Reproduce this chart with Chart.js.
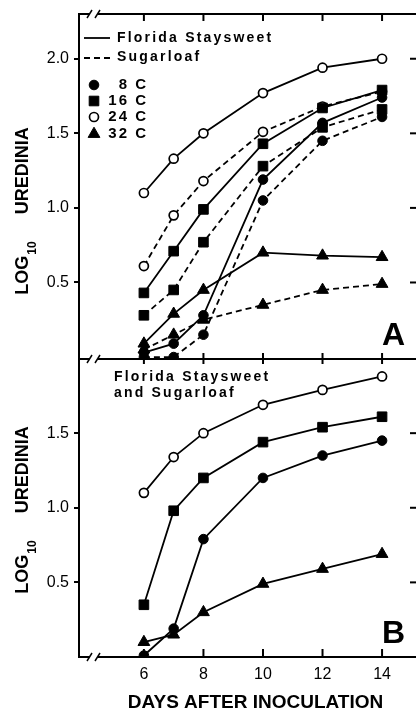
<!DOCTYPE html>
<html><head><meta charset="utf-8">
<script src="https://cdn.jsdelivr.net/npm/chart.js@4.4.1/dist/chart.umd.min.js"></script>
<style>
html,body{margin:0;padding:0;background:#fff;width:416px;height:711px;overflow:hidden;}
#wrap{position:relative;width:416px;height:711px;}
canvas{position:absolute;left:0;}
#cA{top:0;} #cB{top:345px;}
</style></head><body>
<div id="wrap"><canvas id="cA" width="416" height="371"></canvas><canvas id="cB" width="416" height="366"></canvas></div>
<script>
// ---- data ----
const days = [6, 7, 8, 10, 12, 14];
const xTicks = [6, 8, 10, 12, 14];
const yTicksA = [0.5, 1.0, 1.5, 2.0];
const yTicksB = [0.5, 1.0, 1.5];
const temps = ['8 C', '16 C', '24 C', '32 C'];
const cultivars = ['Florida Staysweet', 'Sugarloaf'];
const xTitle = 'DAYS AFTER INOCULATION';
// Panel A - Florida Staysweet (solid)
const fs8  = [0.03, 0.09, 0.28, 1.19, 1.57, 1.74];
const fs16 = [0.43, 0.71, 0.99, 1.43, 1.67, 1.79];
const fs24 = [1.10, 1.33, 1.50, 1.77, 1.94, 2.00];
const fs32 = [0.09, 0.29, 0.45, 0.70, 0.68, 0.67];
// Panel A - Sugarloaf (dashed)
const sl8  = [0.00, 0.00, 0.15, 1.05, 1.45, 1.61];
const sl16 = [0.28, 0.45, 0.77, 1.28, 1.54, 1.66];
const sl24 = [0.61, 0.95, 1.18, 1.51, 1.68, 1.78];
const sl32 = [0.05, 0.15, 0.25, 0.35, 0.45, 0.49];
// Panel B - both cultivars
const b8  = [0.01, 0.19, 0.79, 1.20, 1.35, 1.45];
const b16 = [0.35, 0.98, 1.20, 1.44, 1.54, 1.61];
const b24 = [1.10, 1.34, 1.50, 1.69, 1.79, 1.88];
const b32 = [0.10, 0.15, 0.30, 0.49, 0.59, 0.69];

// ---- styles ----
const FONT = "'Liberation Sans', Arial, Helvetica, sans-serif";
const markerStyle = {
  '8 C':  {pointStyle:'circle',   radius:4.8, bg:'#000', bw:1},
  '16 C': {pointStyle:'rect',     radius:6.8, bg:'#000', bw:1},
  '24 C': {pointStyle:'circle',   radius:4.5, bg:'#fff', bw:1.7},
  '32 C': {pointStyle:'triangle', radius:6.8, bg:'#000', bw:1}
};
function ds(label, temp, values, dashed){
  const m = markerStyle[temp];
  return {
    label: label, data: days.map((d,i)=>({x:d, y:values[i]})),
    borderColor:'#000', borderWidth:1.8, borderDash: dashed ? [6,4] : [],
    pointStyle:m.pointStyle, pointRadius:m.radius, pointBackgroundColor:m.bg,
    pointBorderColor:'#000', pointBorderWidth:m.bw, tension:0, fill:false
  };
}
function line(ctx,x1,y1,x2,y2,w){ctx.beginPath();ctx.lineWidth=w;ctx.moveTo(x1,y1);ctx.lineTo(x2,y2);ctx.stroke();}
function hAxisWithBreak(ctx,left,right,y){
  ctx.save(); ctx.strokeStyle='#000'; ctx.setLineDash([]);
  line(ctx,left-1,y,90,y,2); line(ctx,98,y,right,y,2);
  line(ctx,87,y+4,92,y-4,1.5); line(ctx,95,y+4,100,y-4,1.5);
  ctx.restore();
}
function yTitle(ctx,cx,cy){
  ctx.save(); ctx.fillStyle='#000';
  const main='bold 18px '+FONT, sub='bold 12px '+FONT;
  ctx.font=main; const wL=ctx.measureText('LOG').width, wU=ctx.measureText('UREDINIA').width;
  ctx.font=sub; const w10=ctx.measureText('10').width;
  const gap=28, total=wL+w10+gap+wU;
  ctx.translate(cx,cy+total/2); ctx.rotate(-Math.PI/2);
  ctx.textAlign='left'; ctx.textBaseline='alphabetic';
  ctx.font=main; ctx.fillText('LOG',0,0);
  ctx.font=sub; ctx.fillText('10',wL+1,8);
  ctx.font=main; ctx.fillText('UREDINIA',wL+w10+gap,0);
  ctx.restore();
}
function spacedText(ctx,text,x,y,font,spacing,align){
  ctx.save(); ctx.font=font; ctx.fillStyle='#000'; ctx.textBaseline='middle';
  ctx.textAlign=align||'left';
  try{ ctx.letterSpacing=spacing+'px'; }catch(e){}
  ctx.fillText(text,x,y); ctx.restore();
}
function marker(ctx,temp,x,y){
  const m=markerStyle[temp];
  ctx.save(); ctx.fillStyle=m.bg; ctx.strokeStyle='#000'; ctx.lineWidth=m.bw; ctx.setLineDash([]);
  Chart.helpers.drawPoint(ctx,{pointStyle:m.pointStyle,radius:m.radius,borderWidth:m.bw,rotation:0},x,y);
  ctx.restore();
}

const decor = {
  id:'decor',
  afterDraw(chart, args, opts){
    const ctx=chart.ctx, a=chart.chartArea, xs=chart.scales.x, ys=chart.scales.y;
    ctx.save(); ctx.strokeStyle='#000'; ctx.setLineDash([]);
    if(opts.panel==='A'){
      hAxisWithBreak(ctx,a.left,416,a.top);
      hAxisWithBreak(ctx,a.left,416,a.bottom);
      xTicks.forEach(d=>{const p=xs.getPixelForValue(d); line(ctx,p,a.top,p,a.top+7,2); line(ctx,p,a.bottom-6,p,a.bottom+5,2);});
      yTicksA.forEach(v=>{const p=ys.getPixelForValue(v); line(ctx,410,p,416,p,2);});
      // legend
      line(ctx,84,38,110,38,1.8);
      ctx.setLineDash([6,4]); line(ctx,84,58,110,58,1.8); ctx.setLineDash([]);
      spacedText(ctx,cultivars[0],117,38,'bold 14px '+FONT,2.2);
      spacedText(ctx,cultivars[1],117,57,'bold 14px '+FONT,2.2);
      const rows=[85,101,117,134];
      temps.forEach((t,i)=>{ marker(ctx,t,94,rows[i]); spacedText(ctx,t,148,rows[i],'bold 15px '+FONT,2,'right'); });
      ctx.font='bold 32px '+FONT; ctx.fillStyle='#000'; ctx.textAlign='left'; ctx.textBaseline='alphabetic';
      ctx.fillText('A',382,345);
      yTitle(ctx,28,211);
    } else {
      hAxisWithBreak(ctx,a.left,416,a.bottom);
      xTicks.forEach(d=>{const p=xs.getPixelForValue(d); line(ctx,p,a.bottom,p,a.bottom-8,2);});
      yTicksB.forEach(v=>{const p=ys.getPixelForValue(v); line(ctx,410,p,416,p,2);});
      spacedText(ctx,cultivars[0],114,377-345,'bold 14px '+FONT,2.2);
      spacedText(ctx,'and '+cultivars[1],114,393-345,'bold 14px '+FONT,2.2);
      ctx.font='bold 32px '+FONT; ctx.fillStyle='#000'; ctx.textAlign='left'; ctx.textBaseline='alphabetic';
      ctx.fillText('B',382,643-345);
      yTitle(ctx,28,510-345);
      spacedText(ctx,xTitle,255.5,703-345,'bold 19px '+FONT,0,'center');
    }
    ctx.restore();
  }
};

function yScale(min,max,ticks){
  return {
    type:'linear', position:'left', min:min, max:max,
    afterFit(s){ s.width=79; s.paddingTop=0; s.paddingBottom=0; },
    afterBuildTicks(s){ s.ticks=ticks.map(v=>({value:v})); },
    ticks:{ color:'#000', font:{family:FONT,size:16}, padding:5, callback:v=>Number(v).toFixed(1) },
    grid:{ drawOnChartArea:false, drawTicks:true, tickLength:5, color:'#000', lineWidth:2 },
    border:{ display:true, color:'#000', width:2 }
  };
}
const xMin=3.82, xMax=15.14;

new Chart(document.getElementById('cA'), {
  type:'line',
  data:{ datasets:[
    ds(cultivars[0]+' '+temps[0],temps[0],fs8,false),
    ds(cultivars[0]+' '+temps[1],temps[1],fs16,false),
    ds(cultivars[0]+' '+temps[2],temps[2],fs24,false),
    ds(cultivars[0]+' '+temps[3],temps[3],fs32,false),
    ds(cultivars[1]+' '+temps[0],temps[0],sl8,true),
    ds(cultivars[1]+' '+temps[1],temps[1],sl16,true),
    ds(cultivars[1]+' '+temps[2],temps[2],sl24,true),
    ds(cultivars[1]+' '+temps[3],temps[3],sl32,true)
  ]},
  options:{
    responsive:false, animation:false, devicePixelRatio:1,
    layout:{ autoPadding:false, padding:{top:14,left:0,right:0,bottom:12} },
    plugins:{ legend:{display:false}, tooltip:{enabled:false}, decor:{panel:'A'} },
    scales:{
      x:{ type:'linear', min:xMin, max:xMax, display:false },
      y: yScale(-0.013, 2.30, yTicksA)
    }
  },
  plugins:[decor]
});

new Chart(document.getElementById('cB'), {
  type:'line',
  data:{ datasets:[
    ds(temps[0],temps[0],b8,false),
    ds(temps[1],temps[1],b16,false),
    ds(temps[2],temps[2],b24,false),
    ds(temps[3],temps[3],b32,false)
  ]},
  options:{
    responsive:false, animation:false, devicePixelRatio:1,
    layout:{ autoPadding:false, padding:{top:14,left:0,right:0,bottom:0} },
    plugins:{ legend:{display:false}, tooltip:{enabled:false}, decor:{panel:'B'} },
    scales:{
      x:{ type:'linear', position:'bottom', min:xMin, max:xMax,
          afterFit(s){ s.height=54; },
          afterBuildTicks(s){ s.ticks=xTicks.map(v=>({value:v})); },
          ticks:{ color:'#000', font:{family:FONT,size:16}, padding:8, maxRotation:0, autoSkip:false },
          grid:{ display:false, drawTicks:false },
          border:{ display:false }
      },
      y: yScale(0, 1.997, yTicksB)
    }
  },
  plugins:[decor]
});
</script>
</body></html>
